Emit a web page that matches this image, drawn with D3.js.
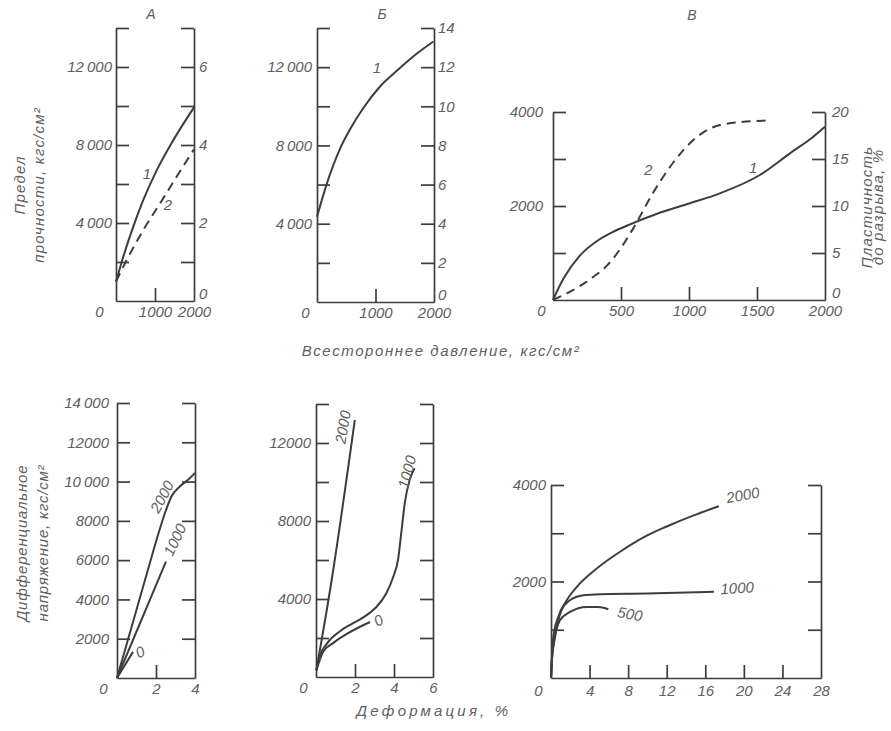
<!DOCTYPE html>
<html><head><meta charset="utf-8">
<script src="https://cdn.jsdelivr.net/npm/d3@7"></script>
<style>
body{margin:0;background:#fff;}
svg text{font-family:"Liberation Sans",Arial,sans-serif;font-style:italic;fill:#606060;}
</style></head><body>
<svg id="c" width="891" height="731"></svg>
<script>
// ================= DATA =================
const panelLetters = ["А", "Б", "В"];

// --- Top A: strength (kgf/cm2) & plasticity (%) vs pressure
const pressA1 = [0, 187, 443, 700, 1043, 1470, 2000];
const strengthA1 = [990, 2270, 3810, 5180, 6700, 8250, 9930];
const pressA2 = [0, 274, 700, 1128, 1556, 2000];
const plastA2 = [0.5, 1.05, 1.82, 2.5, 3.19, 3.89];

// --- Top Б
const pressB1 = [0, 160, 389, 580, 789, 1074, 1360, 1703, 1989];
const strengthB1 = [4350, 5970, 7800, 8900, 9900, 11000, 11800, 12680, 13310];

// --- Top В
const pressV1 = [0, 76, 199, 321, 442, 566, 761, 1006, 1227, 1521, 1742, 1914, 2000];
const strengthV1 = [0, 450, 950, 1250, 1450, 1610, 1830, 2057, 2270, 2660, 3121, 3474, 3687];
const pressV2 = [0, 199, 300, 393, 493, 577, 736, 883, 1055, 1252, 1583];
const plastV2 = [0, 1.5, 2.5, 3.6, 5.4, 7.3, 11.4, 14.6, 17.3, 18.7, 19.1];

// --- Bottom A: differential stress vs deformation (curves labelled by pressure)
const defA2000 = [0, 1.44, 2.2, 2.46, 2.8, 3.23, 3.66, 4.0];
const stressA2000 = [0, 5000, 7600, 8400, 9250, 9760, 10100, 10440];
const defA1000 = [0, 2.51];
const stressA1000 = [0, 5930];
const defA0 = [0, 0.82];
const stressA0 = [0, 1330];

// --- Bottom Б
const defB2000 = [0.02, 0.8, 1.99];
const stressB2000 = [350, 4950, 13180];
const defB1000 = [0.02, 0.2, 0.55, 1.23, 1.8, 2.26, 2.77, 3.11, 3.6, 3.95, 4.22, 4.38, 4.55, 4.8, 5.06];
const stressB1000 = [350, 1080, 1700, 2350, 2700, 2950, 3300, 3600, 4280, 5100, 6100, 7450, 8900, 10100, 10700];
const defB0 = [0.02, 0.37, 0.89, 1.74, 2.77];
const stressB0 = [350, 1300, 1750, 2300, 2820];

// --- Bottom В
const defV2000 = [0, 0.07, 0.24, 0.76, 1.63, 3.0, 4.74, 7.16, 9.93, 12.0, 14.8, 17.4];
const stressV2000 = [0, 300, 850, 1270, 1610, 1960, 2270, 2616, 2950, 3140, 3370, 3560];
const defV1000 = [0, 0.07, 0.42, 1.1, 1.97, 3.36, 5.09, 9.93, 16.9];
const stressV1000 = [0, 300, 850, 1405, 1612, 1716, 1737, 1750, 1785];
const defV500 = [0, 0.07, 0.17, 0.93, 1.97, 3.7, 4.9, 5.95];
const stressV500 = [0, 300, 575, 1197, 1370, 1474, 1474, 1425];

// --- tick values and labels
const ticksPressA = [0, 1000, 2000];
const ticksPressV = [0, 500, 1000, 1500, 2000];
const ticksDefA = [0, 2, 4];
const ticksDefB = [0, 2, 4, 6];
const ticksDefV = [0, 4, 8, 12, 16, 20, 24, 28];
const ticks14k = [2000, 4000, 6000, 8000, 10000, 12000, 14000];
const ticks4k = [1000, 2000, 3000, 4000];
const ticksR7 = [0, 1, 2, 3, 4, 5, 6, 7];
const ticksR14 = [0, 2, 4, 6, 8, 10, 12, 14];
const ticksR20 = [0, 5, 10, 15, 20];
const labelsTopA = ["4\u2009000", "8\u2009000", "12\u2009000"];
const labelsTopAvals = [4000, 8000, 12000];
const labelsR7vals = [0, 2, 4, 6];
const labelsBotA = ["2000", "4000", "6000", "8000", "10\u2009000", "12000", "14\u2009000"];
const labelsBotAvals = [2000, 4000, 6000, 8000, 10000, 12000, 14000];
const labelsBotB = ["4000", "8000", "12000"];
const labels4k = ["2000", "4000"];
const labels4kvals = [2000, 4000];

// ================= DRAWING =================
const svg = d3.select("#c");
const LINE = "#3d3d3d", TXT = "#606060";
const FS = 15;

function mapFmt(vals, labels) {
  const m = new Map(vals.map((v, i) => [v, labels[i]]));
  return d => (m.has(d) ? m.get(d) : "");
}
function styleAxis(g) {
  g.attr("font-size", null).attr("font-family", null).attr("color", LINE);
  g.select(".domain").attr("stroke-width", 1.7);
  g.selectAll(".tick line").attr("stroke-width", 1.7);
  g.selectAll(".tick text").attr("fill", TXT).style("font-size", FS + "px");
}

function drawPanel(p) {
  const x = d3.scaleLinear().domain(p.xDomain).range(p.xRange);
  const yL = d3.scaleLinear().domain(p.yDomain).range(p.yRange);
  const yR = d3.scaleLinear().domain(p.y2Domain).range(p.yRange);
  const y0 = p.yRange[0];

  // x axis
  const gx = svg.append("g").attr("transform", `translate(0,${y0})`)
    .call(d3.axisBottom(x).tickValues(p.xTicks).tickSizeInner(-13).tickSizeOuter(0)
      .tickPadding(p.xPad).tickFormat(d3.format("d")));
  styleAxis(gx);
  const xmin = p.xDomain[0], xmax = p.xDomain[1];
  gx.selectAll(".tick").filter(d => d === xmin || d === xmax).select("line").remove();
  gx.selectAll(".tick").filter(d => d === xmin).select("text").attr("dx", -p.zeroShift);

  // left axis
  const gl = svg.append("g").attr("transform", `translate(${p.xRange[0]},0)`)
    .call(d3.axisLeft(yL).tickValues(p.yTicks).tickSizeInner(-13).tickSizeOuter(0)
      .tickPadding(p.lPad).tickFormat(mapFmt(p.yLabelVals, p.yLabels)));
  styleAxis(gl);

  // right axis
  const gr = svg.append("g").attr("transform", `translate(${p.xRange[1]},0)`)
    .call(d3.axisRight(yR).tickValues(p.y2Ticks).tickSizeInner(-13).tickSizeOuter(0)
      .tickPadding(p.rPad).tickFormat(mapFmt(p.y2LabelVals, p.y2LabelVals.map(String))));
  styleAxis(gr);
  const zeroTick = gr.selectAll(".tick").filter(d => d === p.y2Domain[0]);
  zeroTick.select("line").remove();
  zeroTick.select("text").attr("dy", "-0.15em");

  // curves
  p.curves.forEach(c => {
    const sc = c.right ? yR : yL;
    const pts = c.xs.map((v, i) => [v, c.ys[i]]);
    const line = d3.line().x(d => x(d[0])).y(d => sc(d[1]))
      .curve(pts.length > 2 ? d3.curveMonotoneX : d3.curveLinear);
    svg.append("path").attr("d", line(pts)).attr("fill", "none")
      .attr("stroke", LINE).attr("stroke-width", 2)
      .attr("stroke-linejoin", "round")
      .attr("stroke-dasharray", c.dash ? "9,6" : null);
  });
  // curve labels
  p.labels.forEach(l => {
    const sc = l.right ? yR : yL;
    svg.append("text").text(l.t)
      .attr("transform", `translate(${x(l.x)},${sc(l.y)}) rotate(${l.rot || 0})`)
      .attr("text-anchor", "middle").attr("dy", "0.35em")
      .style("font-size", FS + "px");
  });
}

const zipC = (xs, ys, o) => Object.assign({ xs, ys }, o || {});

// ---- top row
drawPanel({
  xDomain: [0, 2000], xRange: [116, 194], xTicks: ticksPressA, xPad: 5, zeroShift: 17,
  yDomain: [0, 14000], y2Domain: [0, 7], yRange: [301, 28],
  yTicks: ticks14k, yLabelVals: labelsTopAvals, yLabels: labelsTopA, lPad: 4,
  y2Ticks: ticksR7, y2LabelVals: labelsR7vals, rPad: 5,
  curves: [zipC(pressA1, strengthA1), zipC(pressA2, plastA2, { right: true, dash: true })],
  labels: [{ t: "1", x: 795, y: 6510 }, { t: "2", x: 1333, y: 4920 }]
});
drawPanel({
  xDomain: [0, 2000], xRange: [317, 434], xTicks: ticksPressA, xPad: 5, zeroShift: 12,
  yDomain: [0, 14000], y2Domain: [0, 14], yRange: [302, 28],
  yTicks: ticks14k, yLabelVals: labelsTopAvals, yLabels: labelsTopA, lPad: 5,
  y2Ticks: ticksR14, y2LabelVals: ticksR14, rPad: 4,
  curves: [zipC(pressB1, strengthB1)],
  labels: [{ t: "1", x: 1026, y: 11960 }]
});
drawPanel({
  xDomain: [0, 2000], xRange: [553, 825], xTicks: ticksPressV, xPad: 5, zeroShift: 12,
  yDomain: [0, 4000], y2Domain: [0, 20], yRange: [300, 112],
  yTicks: ticks4k, yLabelVals: labels4kvals, yLabels: labels4k, lPad: 10,
  y2Ticks: ticksR20, y2LabelVals: ticksR20, rPad: 7,
  curves: [zipC(pressV1, strengthV1), zipC(pressV2, plastV2, { right: true, dash: true })],
  labels: [{ t: "2", x: 699, y: 2766 }, { t: "1", x: 1471, y: 2809 }]
});

// ---- bottom row
drawPanel({
  xDomain: [0, 4], xRange: [117, 195], xTicks: ticksDefA, xPad: 5, zeroShift: 14,
  yDomain: [0, 14000], y2Domain: [0, 14000], yRange: [678, 403],
  yTicks: ticks14k, yLabelVals: labelsBotAvals, yLabels: labelsBotA, lPad: 8,
  y2Ticks: ticks14k, y2LabelVals: [], rPad: 4,
  curves: [zipC(defA2000, stressA2000), zipC(defA1000, stressA1000), zipC(defA0, stressA0)],
  labels: [{ t: "2000", x: 2.31, y: 9230, rot: -62 }, { t: "1000", x: 2.97, y: 7040, rot: -65 },
           { t: "0", x: 1.18, y: 1330, rot: -25 }]
});
drawPanel({
  xDomain: [0, 6], xRange: [316, 433], xTicks: ticksDefB, xPad: 5, zeroShift: 13,
  yDomain: [0, 14000], y2Domain: [0, 14000], yRange: [677, 404],
  yTicks: ticks14k, yLabelVals: [4000, 8000, 12000], yLabels: labelsBotB, lPad: 5,
  y2Ticks: ticks14k, y2LabelVals: [], rPad: 4,
  curves: [zipC(defB2000, stressB2000), zipC(defB1000, stressB1000), zipC(defB0, stressB0)],
  labels: [{ t: "2000", x: 1.38, y: 12820, rot: -80 }, { t: "1000", x: 4.67, y: 10510, rot: -75 },
           { t: "0", x: 3.2, y: 2900, rot: -30 }]
});
drawPanel({
  xDomain: [0, 28], xRange: [551, 821], xTicks: ticksDefV, xPad: 7, zeroShift: 13,
  yDomain: [0, 4000], y2Domain: [0, 4000], yRange: [678, 485],
  yTicks: ticks4k, yLabelVals: labels4kvals, yLabels: labels4k, lPad: 5,
  y2Ticks: ticks4k, y2LabelVals: [], rPad: 4,
  curves: [zipC(defV2000, stressV2000), zipC(defV1000, stressV1000), zipC(defV500, stressV500)],
  labels: [{ t: "2000", x: 19.9, y: 3790, rot: -10 }, { t: "1000", x: 19.3, y: 1865, rot: -3 },
           { t: "500", x: 8.2, y: 1326, rot: 10 }]
});

// ---- panel letters & axis titles
const letterPos = [[151, 14], [382, 14], [692, 15]];
panelLetters.forEach((t, i) => svg.append("text").text(t)
  .attr("x", letterPos[i][0]).attr("y", letterPos[i][1]).attr("dy", "0.35em")
  .attr("text-anchor", "middle").style("font-size", "14px"));

function title(lines, cx, cy, rot, spacing, ls) {
  lines.forEach((t, i) => {
    svg.append("text").text(t)
      .attr("transform", `translate(${cx + (rot ? i * spacing : 0)},${cy + (rot ? 0 : i * spacing)}) rotate(${rot})`)
      .attr("text-anchor", "middle").attr("dy", "0.35em")
      .style("font-size", FS + "px").style("letter-spacing", ls + "px");
  });
}
title(["Предел", "прочности, кгс/см²"], 20, 185, -90, 19, 1.2);
title(["Всестороннее давление, кгс/см²"], 441, 351, 0, 0, 1.6);
title(["Пластичность", "до разрыва, %"], 867, 207, -90, 11, 1.2);
title(["Дифференциальное", "напряжение, кгс/см²"], 22, 543, -90, 21, 0.8);
title(["Деформация, %"], 434, 711, 0, 0, 3.2);
</script>
</body></html>
